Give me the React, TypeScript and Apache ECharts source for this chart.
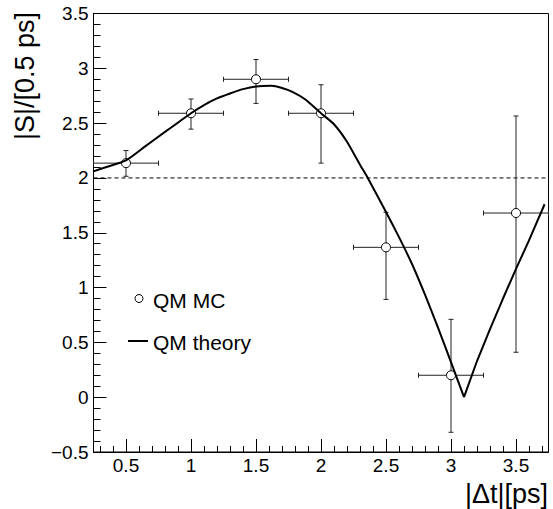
import React, { useEffect, useRef } from "react";
import * as echarts from "echarts";

// QM MC points (x, y, x-error, asymmetric y-errors)
const mcX = [0.5, 1.0, 1.5, 2.0, 2.5, 3.0, 3.5];
const mcY = [2.135, 2.59, 2.9, 2.59, 1.367, 0.2, 1.68];
const mcErrX = [0.25, 0.25, 0.25, 0.25, 0.25, 0.25, 0.25];
const mcErrYLow = [0.12, 0.145, 0.22, 0.455, 0.475, 0.52, 1.27];
const mcErrYHigh = [0.115, 0.13, 0.18, 0.26, 0.32, 0.51, 0.885];

// QM theory curve: part up to the zero, then the rising part after it
const thX = [0.25, 0.35, 0.5, 0.65, 0.8, 0.9, 1.0, 1.1, 1.2, 1.3, 1.4, 1.5, 1.62, 1.7, 1.78, 1.88, 2.0, 2.1, 2.2, 2.3, 2.36, 2.5, 2.6, 2.7, 2.8, 2.9, 3.0, 3.1];
const thY = [2.06, 2.1, 2.16, 2.29, 2.42, 2.505, 2.59, 2.665, 2.725, 2.77, 2.81, 2.835, 2.84, 2.82, 2.785, 2.715, 2.59, 2.49, 2.33, 2.12, 2.0, 1.69, 1.46, 1.215, 0.935, 0.635, 0.32, 0.0];
const thX2 = [3.1, 3.2, 3.3, 3.4, 3.5, 3.6, 3.72];
const thY2 = [0.0, 0.33, 0.62, 0.9, 1.17, 1.43, 1.76];

// reference level
const refLevel = 2;

// axis ticks
const xMin = 0.25;
const xMax = 3.75;
const xMajor = [0.5, 1, 1.5, 2, 2.5, 3, 3.5];
const xMinor = [0.3, 0.4, 0.6, 0.7, 0.8, 0.9, 1.1, 1.2, 1.3, 1.4, 1.6, 1.7, 1.8, 1.9, 2.1, 2.2, 2.3, 2.4, 2.6, 2.7, 2.8, 2.9, 3.1, 3.2, 3.3, 3.4, 3.6, 3.7];
const yMin = -0.5;
const yMax = 3.5;
const yStep = 0.5;

const FONT = '"Liberation Sans", Arial, Helvetica, sans-serif';

export default function App() {
  const ref = useRef<HTMLDivElement>(null);
  useEffect(() => {
    if (!ref.current) return;
    const chart = echarts.init(ref.current, null, { renderer: "svg" });
    const errData = mcX.map((x, i) => [x, mcY[i], x - mcErrX[i], x + mcErrX[i], mcY[i] - mcErrYLow[i], mcY[i] + mcErrYHigh[i]]);
    const option: any = {
      animation: false,
      backgroundColor: "#fff",
      grid: {
        left: 93.5,
        top: 13.5,
        width: 455,
        height: 438.5,
        show: true,
        borderColor: "#000",
        borderWidth: 1,
        backgroundColor: "transparent",
      },
      xAxis: [
        {
          type: "value",
          min: xMin,
          max: xMax,
          position: "bottom",
          axisLine: { show: true, onZero: false, lineStyle: { color: "#000", width: 1 } },
          axisTick: { show: true, inside: true, length: 13, customValues: xMajor, lineStyle: { color: "#000" } },
          axisLabel: {
            show: true,
            customValues: xMajor,
            margin: 4,
            color: "#000",
            fontSize: 19,
            fontFamily: FONT,
            formatter: (v: number) => String(v),
          },
          splitLine: { show: false },
        },
        {
          type: "value",
          min: xMin,
          max: xMax,
          position: "bottom",
          axisLine: { show: false, onZero: false },
          axisTick: { show: true, inside: true, length: 6, customValues: xMinor, lineStyle: { color: "#000" } },
          axisLabel: { show: false },
          splitLine: { show: false },
        },
      ],
      yAxis: {
        type: "value",
        min: yMin,
        max: yMax,
        interval: yStep,
        axisLine: { show: true, onZero: false, lineStyle: { color: "#000", width: 1 } },
        axisTick: { show: true, inside: true, length: 13, lineStyle: { color: "#000" } },
        minorTick: { show: true, splitNumber: 5, length: 7, lineStyle: { color: "#000" } },
        axisLabel: {
          margin: 5,
          color: "#000",
          fontSize: 19,
          fontFamily: FONT,
          formatter: (v: number) => (v < 0 ? "\u2212" + String(-v) : String(v)),
        },
        splitLine: { show: false },
      },
      series: [
        {
          type: "line",
          data: [[xMin, refLevel], [xMax, refLevel]],
          symbol: "none",
          lineStyle: { color: "#000", width: 1, type: [4, 3] },
          z: 1,
          silent: true,
        },
        {
          type: "custom",
          data: errData,
          z: 2,
          renderItem: (params: any, api: any) => {
            const x = api.value(0);
            const y = api.value(1);
            const c = api.coord([x, y]);
            const l = api.coord([api.value(2), y]);
            const r = api.coord([api.value(3), y]);
            const lo = api.coord([x, api.value(4)]);
            const hi = api.coord([x, api.value(5)]);
            const st = { stroke: "#222", lineWidth: 1 };
            const cap = 2.5;
            return {
              type: "group",
              children: [
                { type: "line", shape: { x1: l[0], y1: c[1], x2: r[0], y2: c[1] }, style: st },
                { type: "line", shape: { x1: l[0], y1: c[1] - cap, x2: l[0], y2: c[1] + cap }, style: st },
                { type: "line", shape: { x1: r[0], y1: c[1] - cap, x2: r[0], y2: c[1] + cap }, style: st },
                { type: "line", shape: { x1: c[0], y1: lo[1], x2: c[0], y2: hi[1] }, style: st },
                { type: "line", shape: { x1: c[0] - cap, y1: lo[1], x2: c[0] + cap, y2: lo[1] }, style: st },
                { type: "line", shape: { x1: c[0] - cap, y1: hi[1], x2: c[0] + cap, y2: hi[1] }, style: st },
              ],
            };
          },
        },
        {
          type: "scatter",
          data: mcX.map((x, i) => [x, mcY[i]]),
          symbol: "circle",
          symbolSize: 9,
          itemStyle: { color: "#fff", borderColor: "#000", borderWidth: 1, opacity: 1 },
          z: 3,
        },
        {
          type: "line",
          data: thX.map((x, i) => [x, thY[i]]),
          symbol: "none",
          smooth: 0.2,
          lineStyle: { color: "#000", width: 2 },
          z: 4,
        },
        {
          type: "line",
          data: thX2.map((x, i) => [x, thY2[i]]),
          symbol: "none",
          smooth: false,
          lineStyle: { color: "#000", width: 2 },
          z: 4,
        },
      ],
      graphic: [
        {
          type: "circle",
          shape: { cx: 139, cy: 298.5, r: 4 },
          style: { fill: "#fff", stroke: "#000", lineWidth: 1 },
        },
        {
          type: "text",
          x: 153,
          y: 300,
          style: { text: "QM MC", fill: "#000", font: "21px " + FONT, textAlign: "left", textVerticalAlign: "middle", align: "left", verticalAlign: "middle" },
        },
        {
          type: "line",
          shape: { x1: 128, y1: 341, x2: 148, y2: 341 },
          style: { stroke: "#000", lineWidth: 2 },
        },
        {
          type: "text",
          x: 153,
          y: 342,
          style: { text: "QM theory", fill: "#000", font: "21px " + FONT, textAlign: "left", textVerticalAlign: "middle", align: "left", verticalAlign: "middle" },
        },
        {
          type: "text",
          x: 25,
          y: 12,
          rotation: Math.PI / 2,
          style: { text: "|S|/[0.5 ps]", fill: "#000", font: "27px " + FONT, textAlign: "right", textVerticalAlign: "middle", align: "right", verticalAlign: "middle" },
        },
        {
          type: "text",
          x: 548,
          y: 494,
          style: { text: "|\u0394t|[ps]", fill: "#000", font: "27px " + FONT, textAlign: "right", textVerticalAlign: "middle", align: "right", verticalAlign: "middle" },
        },
      ],
    };
    chart.setOption(option);
    return () => chart.dispose();
  }, []);
  return <div ref={ref} style={{ width: 553, height: 509, position: "absolute", left: 0, top: 0 }} />;
}
